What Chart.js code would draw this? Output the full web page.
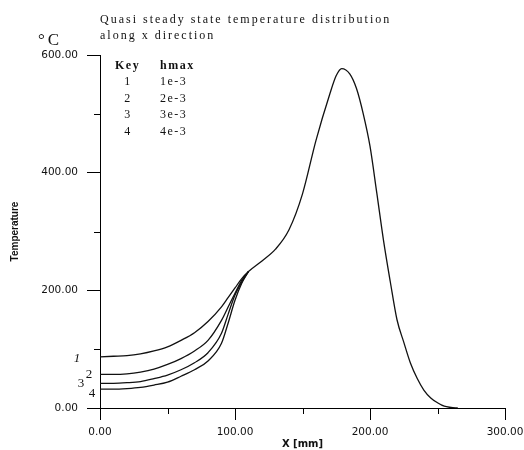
<!DOCTYPE html>
<html>
<head>
<meta charset="utf-8">
<script src="https://cdn.jsdelivr.net/npm/chart.js@4"></script>
<style>
html, body { margin: 0; padding: 0; background: #fff; }
</style>
</head>
<body>
<canvas id="chartTemp" width="524" height="450"></canvas>
<script>
// -- data --
const xHead = [0, 10, 20, 30, 40, 50, 60, 70, 80, 90, 95, 100, 105, 110];
const tKey1 = [87, 88, 89, 92, 97, 104, 115, 128, 147, 172, 188, 204, 220, 232];
const tKey2 = [57, 57, 58, 61, 66, 74, 84, 97, 115, 149, 172, 195, 217, 232];
const tKey3 = [42, 42, 43, 45, 50, 56, 65, 77, 94, 127, 160, 192, 214, 232];
const tKey4 = [32, 32, 33, 35, 39, 44, 54, 65, 80, 110, 145, 183, 212, 232];

// common part of all four curves after they meet
const xTail = [120, 130, 140, 150, 160, 170, 175, 179, 185, 190, 195, 200, 205, 210, 215, 220, 225, 230, 235, 240, 245, 250, 255, 260, 265];
const tTail = [250, 270, 303, 364, 455, 532, 565, 577, 568, 543, 500, 445, 366, 285, 215, 150, 112, 76, 50, 30, 17, 9, 3, 1, 0];

const keyNames = ['1', '2', '3', '4'];
const hmaxValues = ['1e-3', '2e-3', '3e-3', '4e-3'];

const xMajor = 100, xMinor = [50, 150, 250];
const yMajor = 200, yMinor = [100, 300, 500];

function pontos(xs, ys) {
  return xs.map((x, i) => ({ x: x, y: ys[i] }));
}

const curves = [
  pontos(xHead, tKey1).concat(pontos(xTail, tTail)),
  pontos(xHead, tKey2),
  pontos(xHead, tKey3),
  pontos(xHead, tKey4)
];

// minor ticks, key table and the loose labels
const extras = {
  id: 'extras',
  afterDraw(chart) {
    const { ctx, chartArea, scales: { x, y } } = chart;
    ctx.save();
    ctx.strokeStyle = '#000';
    ctx.lineWidth = 1;
    ctx.beginPath();
    xMinor.forEach(v => {
      const px = Math.round(x.getPixelForValue(v)) + 0.5;
      ctx.moveTo(px, chartArea.bottom);
      ctx.lineTo(px, chartArea.bottom + 6);
    });
    yMinor.forEach(v => {
      const py = Math.round(y.getPixelForValue(v)) + 0.5;
      ctx.moveTo(chartArea.left, py);
      ctx.lineTo(chartArea.left - 6, py);
    });
    ctx.stroke();

    ctx.fillStyle = '#111';
    ctx.textBaseline = 'alphabetic';

    // title
    ctx.font = '12px "Liberation Serif"';
    ctx.letterSpacing = '2px';
    ctx.textAlign = 'left';
    ctx.fillText('Quasi steady state temperature distribution', 100, 23);
    ctx.fillText('along x direction', 100, 39);

    // unit
    ctx.font = '17px "Liberation Serif"';
    ctx.letterSpacing = '3px';
    ctx.fillText('°C', 38, 45);

    // key table
    ctx.font = 'bold 12px "Liberation Serif"';
    ctx.letterSpacing = '1.5px';
    ctx.fillText('Key', 115, 69);
    ctx.fillText('hmax', 160, 69);
    ctx.font = '12px "Liberation Serif"';
    keyNames.forEach((k, i) => {
      const base = 85 + i * 16.5;
      ctx.textAlign = 'center';
      ctx.fillText(k, 128, base);
      ctx.textAlign = 'left';
      ctx.fillText(hmaxValues[i], 160, base);
    });

    // curve numbers next to the y axis
    const labX = [77, 89, 81, 92];
    const labDy = [2, 0, 0, 4];
    const starts = [tKey1[0], tKey2[0], tKey3[0], tKey4[0]];
    ctx.letterSpacing = '0px';
    ctx.textAlign = 'center';
    ctx.textBaseline = 'middle';
    keyNames.forEach((k, i) => {
      ctx.font = (i === 0 ? 'italic ' : '') + '13px "Liberation Serif"';
      ctx.fillText(k, labX[i], y.getPixelForValue(starts[i]) + labDy[i]);
    });
    ctx.restore();
  }
};

const ctxTemp = document.getElementById('chartTemp').getContext('2d');

new Chart(ctxTemp, {
  type: 'line',
  data: {
    datasets: curves.map((c, i) => ({
      label: keyNames[i],
      data: c,
      borderColor: '#111',
      borderWidth: 1.3,
      pointRadius: 0,
      fill: false,
      cubicInterpolationMode: 'monotone'
    }))
  },
  options: {
    responsive: false,
    animation: false,
    layout: { padding: { left: 0, right: 19, top: 55, bottom: 0 } },
    plugins: {
      legend: { display: false },
      tooltip: { enabled: false }
    },
    scales: {
      x: {
        type: 'linear',
        min: 0,
        max: 300,
        afterFit: s => { s.height = 42; s.paddingLeft = 0; s.paddingRight = 0; },
        ticks: {
          stepSize: xMajor,
          maxRotation: 0,
          padding: 6,
          color: '#111',
          font: { family: 'DejaVu Sans', size: 10.5 },
          callback: v => v.toFixed(2)
        },
        grid: { drawOnChartArea: false, tickLength: 12, color: '#000', tickColor: '#000' },
        border: { color: '#000', width: 1 },
        title: {
          display: true,
          text: 'X [mm]',
          color: '#111',
          font: { family: 'DejaVu Sans', weight: 'bold', size: 10 },
          padding: { top: 1, bottom: 0 }
        }
      },
      y: {
        min: 0,
        max: 600,
        afterFit: s => { s.width = 100; s.paddingTop = 0; s.paddingBottom = 0; },
        ticks: {
          stepSize: yMajor,
          padding: 9,
          color: '#111',
          font: { family: 'DejaVu Sans', size: 10.5 },
          callback: v => v.toFixed(2)
        },
        grid: { drawOnChartArea: false, tickLength: 13, color: '#000', tickColor: '#000' },
        border: { color: '#000', width: 1 },
        title: {
          display: true,
          text: 'Temperature',
          color: '#111',
          font: { family: 'Liberation Sans', weight: 'bold', size: 10 },
          padding: { top: 9, bottom: 0 }
        }
      }
    }
  },
  plugins: [extras]
});
</script>
</body>
</html>
